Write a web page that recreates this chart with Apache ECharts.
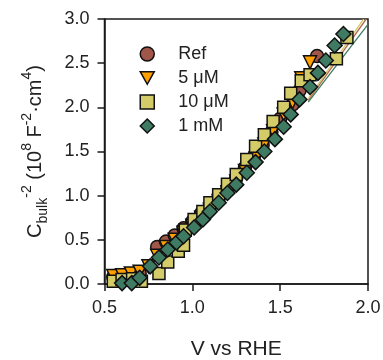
<!DOCTYPE html>
<html>
<head>
<meta charset="utf-8">
<script src="https://cdn.jsdelivr.net/npm/echarts@6/dist/echarts.min.js"></script>
<style>html,body{margin:0;padding:0;background:#fff}#c{width:383px;height:360px}</style>
</head>
<body>
<div id="c"></div>
<script>
// ---- data ----
var seriesNames = ['Ref', '5 \u03bcM', '10 \u03bcM', '1 mM'];
var refX = [0.55,0.60,0.65,0.70,0.80,0.85,0.90,0.95,1.00,1.05,1.10,1.15,1.20,1.25,1.30,1.35,1.40,1.45,1.50,1.57,1.61,1.66,1.71];
var refY = [0.08,0.09,0.10,0.12,0.42,0.48,0.55,0.63,0.71,0.80,0.88,0.98,1.08,1.20,1.32,1.44,1.57,1.72,1.87,2.03,2.19,2.35,2.58];
var t5X = [0.55,0.60,0.65,0.70,0.75,0.80,0.85,0.90,0.95,1.00,1.05,1.10,1.15,1.20,1.25,1.30,1.36,1.41,1.46,1.52,1.57,1.62,1.67];
var t5Y = [0.09,0.10,0.12,0.14,0.20,0.32,0.42,0.50,0.58,0.66,0.75,0.84,0.94,1.04,1.16,1.28,1.42,1.58,1.73,1.92,2.06,2.33,2.51];
var s10X = [0.55,0.60,0.66,0.71,0.81,0.86,0.92,0.95,0.96,1.01,1.06,1.10,1.15,1.20,1.25,1.31,1.36,1.41,1.46,1.52,1.56,1.62,1.67,1.82,1.88];
var s10Y = [0.03,0.05,0.06,0.03,0.12,0.25,0.37,0.44,0.61,0.73,0.82,0.92,1.01,1.13,1.24,1.41,1.56,1.69,1.84,2.00,2.16,2.30,2.37,2.55,2.79];
var m1X = [0.60,0.655,0.70,0.76,0.81,0.86,0.91,0.95,1.01,1.06,1.10,1.15,1.20,1.25,1.31,1.36,1.41,1.47,1.52,1.56,1.61,1.67,1.715,1.76,1.81,1.86];
var m1Y = [0.01,0.01,0.07,0.20,0.30,0.39,0.47,0.54,0.64,0.73,0.82,0.92,1.03,1.125,1.26,1.38,1.50,1.64,1.78,1.92,2.09,2.23,2.39,2.53,2.70,2.83];
// linear fit segments (start, end)
var fitRefX = [1.66, 1.99];  var fitRefY = [2.08, 3.00];
var fit5X   = [1.66, 1.975]; var fit5Y   = [2.10, 3.00];
var fit1mX  = [1.66, 2.00];  var fit1mY  = [2.06, 2.94];

function zip(a, b) { return a.map(function (v, i) { return [v, b[i]]; }); }

var FONT = 'Liberation Sans, Arial, sans-serif';
var AX = '#1a1a1a';
var colRef = '#a0574a', col5 = '#ffa000', col10 = '#d3cc68', col1m = '#3f7b62';
var triDown = 'path://M0,0 L10,0 L5,9 Z';

var chart = echarts.init(document.getElementById('c'), null, {renderer: 'canvas'});
function scat(name, x, y, sym, size, color, rot) {
  return {
    name: name, type: 'scatter', data: zip(x, y), symbol: sym, symbolSize: size,
    symbolRotate: rot || 0,
    itemStyle: {color: color, borderColor: '#111', borderWidth: 1.5, opacity: 1},
    z: 3
  };
}
function fit(x, y, color) {
  return {type: 'line', data: zip(x, y), showSymbol: false, silent: true,
    lineStyle: {color: color, width: 1.3}, z: 2};
}
chart.setOption({
  animation: false,
  grid: {left: 104.5, right: 15, top: 19, bottom: 76, show: true,
    containLabel: false, outerBoundsMode: 'none',
    borderColor: AX, borderWidth: 1.5, backgroundColor: 'transparent'},
  legend: {
    data: [
      {name: seriesNames[0], icon: 'circle'},
      {name: seriesNames[1], icon: triDown},
      {name: seriesNames[2], icon: 'rect'},
      {name: seriesNames[3], icon: 'diamond'}
    ],
    orient: 'vertical', left: 134.5, top: 40,
    itemWidth: 14, itemHeight: 14, itemGap: 6, symbolKeepAspect: true,
    itemStyle: {borderColor: '#111', borderWidth: 1.5},
    textStyle: {fontFamily: FONT, fontSize: 18, color: '#222', padding: [0, 0, 0, 19]}
  },
  xAxis: {
    type: 'value', min: 0.5, max: 2.0, interval: 0.5,
    name: 'V vs RHE', nameLocation: 'middle', nameGap: 55,
    nameTextStyle: {fontFamily: FONT, fontSize: 21, color: '#222'},
    axisLine: {onZero: false, lineStyle: {color: AX, width: 1.5}},
    axisTick: {inside: false, length: 7, lineStyle: {color: AX, width: 1.5}},
    axisLabel: {fontFamily: FONT, fontSize: 18, color: '#222', margin: 15,
      formatter: function (v) { return v.toFixed(1); }},
    splitLine: {show: false}
  },
  yAxis: {
    type: 'value', min: 0, max: 3.0, interval: 0.5,
    name: '{m|C}{sub|bulk}{sup|-2}{m| (10}{sup|8}{m| F}{sup|-2}{m|\u00b7cm}{sup|4}{m|)}',
    nameLocation: 'middle', nameGap: 54, nameRotate: 90,
    nameTextStyle: {fontFamily: FONT, fontSize: 20, color: '#222',
      rich: {
        m: {fontFamily: FONT, fontSize: 20, color: '#222', lineHeight: 30, verticalAlign: 'middle'},
        sub: {fontFamily: FONT, fontSize: 14, color: '#222', lineHeight: 14, verticalAlign: 'bottom'},
        sup: {fontFamily: FONT, fontSize: 14, color: '#222', lineHeight: 14, verticalAlign: 'top'}
      }},
    axisLine: {onZero: false, lineStyle: {color: AX, width: 1.5}},
    axisTick: {inside: false, length: 7, lineStyle: {color: AX, width: 1.5}},
    axisLabel: {fontFamily: FONT, fontSize: 18, color: '#222', margin: 15,
      formatter: function (v) { return v.toFixed(1); }},
    splitLine: {show: false}
  },
  series: [
    fit(fitRefX, fitRefY, '#b36a4f'),
    fit(fit5X, fit5Y, '#cfc35a'),
    fit(fit1mX, fit1mY, '#3f7b62'),
    scat(seriesNames[0], refX, refY, 'circle', 13, colRef),
    scat(seriesNames[1], t5X, t5Y, 'triangle', 13, col5, 180),
    scat(seriesNames[2], s10X, s10Y, 'rect', 12, col10),
    scat(seriesNames[3], m1X, m1Y, 'diamond', 15, col1m)
  ]
});
</script>
</body>
</html>
